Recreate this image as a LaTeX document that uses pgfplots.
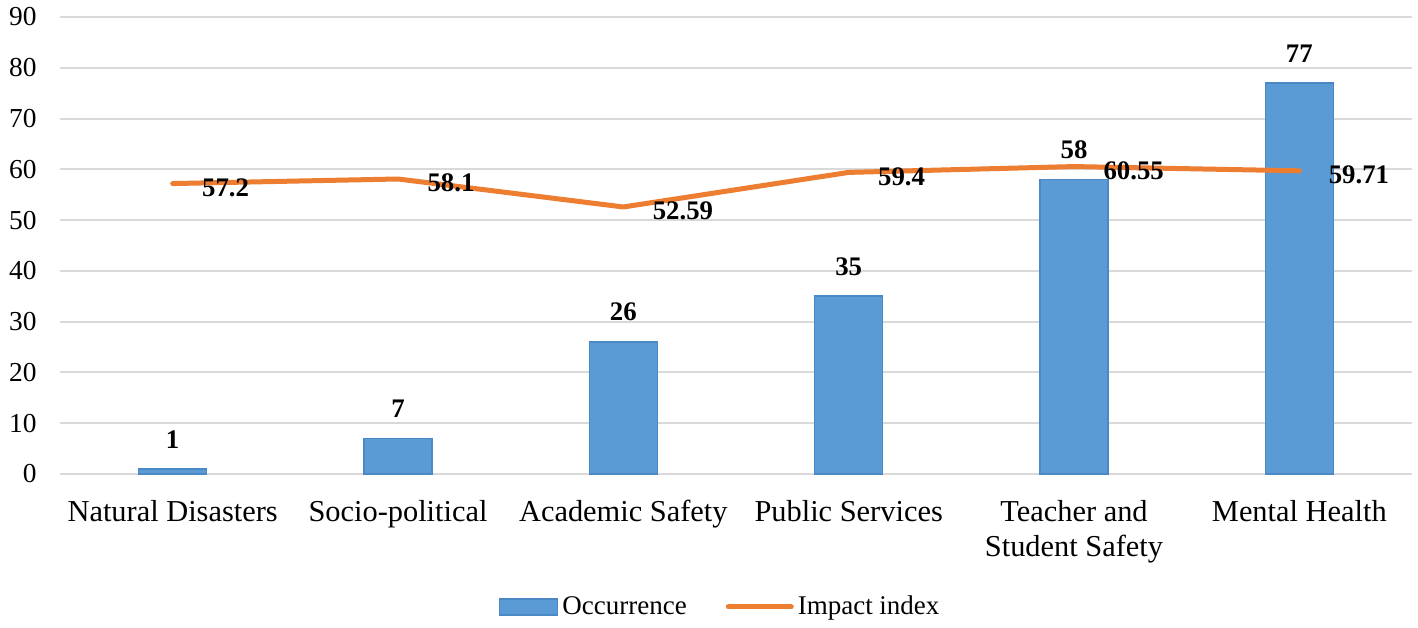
\documentclass[border=0pt]{standalone}
\usepackage{pgfplots}
\pgfplotsset{compat=1.18}
\usepackage{fontspec}
\setmainfont{Liberation Serif}
\definecolor{barblue}{HTML}{5B9BD5}
\definecolor{baredge}{HTML}{4A88C6}
\definecolor{lineorange}{HTML}{ED7D31}
\definecolor{gridgray}{HTML}{D9D9D9}
\begin{document}
\begin{tikzpicture}
\path[use as bounding box] (-30pt,-76.5pt) rectangle (679pt,237pt);
\begin{axis}[
  at={(0,0)}, anchor=south west,
  scale only axis, width=676pt, height=228.5pt,
  xmin=-0.5, xmax=5.5, ymin=0, ymax=90,
  ytick={0,10,...,90},
  xtick={0,...,5},
  xticklabels={Natural Disasters, Socio-political, Academic Safety, Public Services, {Teacher and\\Student Safety}, Mental Health},
  x tick label style={align=center, font=\fontsize{15.2}{17.5}\selectfont, anchor=north, inner sep=0pt, yshift=-13pt},
  y tick label style={font=\fontsize{13.7}{16}\selectfont, anchor=east, inner sep=0pt, xshift=-11.5pt},
  /pgf/number format/assume math mode=true,
  ymajorgrids, grid style={gridgray, line width=1pt},
  axis line style={draw=none}, major tick length=0pt, tick style={draw=none},
  clip=false,
  legend style={at={(0.489,-0.291)}, anchor=center, draw=none, fill=none,
    legend columns=2, font=\fontsize{13.5}{16}\selectfont,
    /tikz/every even column/.append style={column sep=17.5pt}},
  legend cell align=left,
]
\addplot[ybar, bar width=34pt, bar shift=0pt, fill=barblue, draw=baredge, line width=0.8pt,
  nodes near coords,
  every node near coord/.style={font=\fontsize{13.4}{16}\bfseries, anchor=south, inner sep=0pt, yshift=10pt, text=black},
  legend image code/.code={\draw[fill=barblue, draw=baredge, line width=0.8pt] (0pt,-4pt) rectangle (29pt,4pt);}]
  coordinates {(0,1) (1,7) (2,26) (3,35) (4,58) (5,77)};
\addlegendentry{Occurrence}
\addplot[sharp plot, lineorange, line width=2.5pt, no markers, line join=round, line cap=round,
  nodes near coords, point meta=explicit symbolic,
  every node near coord/.style={font=\fontsize{13.4}{16}\bfseries, anchor=west, inner sep=0pt, xshift=13.5pt, yshift=-2pt, text=black},
  legend image code/.code={\draw[lineorange, line width=2.5pt, line cap=round] (0pt,0pt) -- (31.5pt,0pt);}]
  coordinates {(0,57.2) [57.2] (1,58.1) [58.1] (2,52.59) [52.59] (3,59.4) [59.4] (4,60.55) [60.55] (5,59.71) [59.71]};
\addlegendentry{Impact index}
\end{axis}
\end{tikzpicture}
\end{document}
